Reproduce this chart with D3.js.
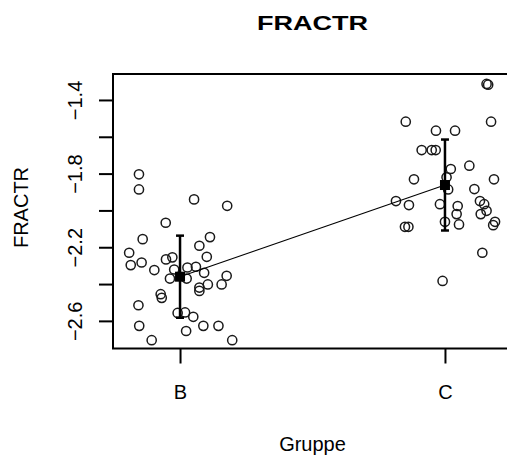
<!DOCTYPE html>
<html lang="en">
<head>
    <meta charset="utf-8" />
    <title>FRACTR</title>
    <script src="https://d3js.org/d3.v7.min.js"></script>
    <style>
        body { margin: 0; background: #fff; }
        svg text { font-family: "Liberation Sans", Arial, sans-serif; fill: #000; }
        .pts circle { fill: none; stroke: #1a1a1a; stroke-width: 1.5px; }
    </style>
</head>
<body>
    <svg width="507" height="461"></svg>
    <script>
        // groups and jittered observations (jitter in x units, value in FRACTR units)
        var groups = ["B", "C"];

        var bJitter = [-0.155, -0.155, 0.053, 0.178, -0.054, -0.141, 0.113, 0.073, -0.192, -0.186,
                       -0.145, -0.053, -0.029, 0.101, -0.097, -0.022, 0.028, 0.060, 0.091, -0.038,
                       0.025, 0.176, 0.105, 0.157, 0.073, 0.073, -0.073, -0.069, -0.157, -0.009,
                       0.019, 0.050, -0.154, 0.088, 0.145, 0.023, -0.107, 0.197];
        var bValues = [-1.804, -1.886, -1.940, -1.975, -2.067, -2.156, -2.145, -2.192, -2.230, -2.297,
                       -2.283, -2.266, -2.255, -2.252, -2.324, -2.321, -2.310, -2.306, -2.339, -2.370,
                       -2.370, -2.355, -2.402, -2.402, -2.419, -2.437, -2.455, -2.475, -2.515, -2.557,
                       -2.554, -2.578, -2.627, -2.627, -2.627, -2.655, -2.705, -2.705];

        var cJitter = [0.157, 0.163, -0.148, 0.174, -0.034, 0.038, -0.088, -0.050, -0.035, 0.022,
                       0.092, -0.117, 0.006, 0.185, 0.012, 0.111, -0.185, -0.136, -0.019, 0.132,
                       0.148, 0.048, 0.044, 0.135, 0.157, 0.189, 0.182, -0.151, -0.138, 0.000,
                       0.053, 0.141, -0.009];
        var cValues = [-1.313, -1.317, -1.518, -1.518, -1.567, -1.567, -1.672, -1.672, -1.672, -1.775,
                       -1.757, -1.831, -1.820, -1.831, -1.886, -1.884, -1.949, -1.971, -1.966, -1.949,
                       -1.966, -1.976, -2.020, -2.020, -2.002, -2.062, -2.080, -2.089, -2.089, -2.062,
                       -2.076, -2.230, -2.383];

        // group means and spread shown as error bars
        var means = [-2.360, -1.862];
        var sds = [0.223, 0.247];

        var yTicks = [-2.6, -2.4, -2.2, -2.0, -1.8, -1.6, -1.4];
        var yLabelled = [-2.6, -2.2, -1.8, -1.4];

        var svg = d3.select("svg");

        // plot region (right edge runs past the picture, as in the original)
        var plotL = 113, plotR = 512, plotT = 74, plotB = 348.5;

        var x = d3.scaleLinear().domain([0.747, 2.253]).range([plotL, plotR]);
        var y = d3.scaleLinear().domain([-2.750, -1.259]).range([plotB, plotT]);

        // observations
        var points = [];
        bValues.forEach(function (v, i) { points.push({ x: 1 + bJitter[i], y: v }); });
        cValues.forEach(function (v, i) { points.push({ x: 2 + cJitter[i], y: v }); });

        svg.append("g")
            .attr("class", "pts")
            .selectAll("circle")
            .data(points)
            .enter().append("circle")
                .attr("cx", function (d) { return x(d.x); })
                .attr("cy", function (d) { return y(d.y); })
                .attr("r", 4.6);

        // line joining the means
        svg.append("path")
            .datum(means)
            .attr("fill", "none")
            .attr("stroke", "#000")
            .attr("stroke-width", 1.1)
            .attr("d", d3.line()
                .x(function (d, i) { return x(i + 1); })
                .y(function (d) { return y(d); }));

        // error bars
        var bars = svg.append("g").attr("stroke", "#000").attr("stroke-width", 2.5);
        means.forEach(function (m, i) {
            var cx = x(i + 1);
            bars.append("line")
                .attr("x1", cx).attr("x2", cx)
                .attr("y1", y(m + sds[i])).attr("y2", y(m - sds[i]));
            [m + sds[i], m - sds[i]].forEach(function (v) {
                bars.append("line")
                    .attr("x1", cx - 4).attr("x2", cx + 4)
                    .attr("y1", y(v)).attr("y2", y(v));
            });
        });

        svg.append("g")
            .selectAll("rect")
            .data(means)
            .enter().append("rect")
                .attr("x", function (d, i) { return x(i + 1) - 5; })
                .attr("y", function (d) { return y(d) - 5; })
                .attr("width", 10)
                .attr("height", 10)
                .attr("fill", "#000");

        // plot box
        svg.append("rect")
            .attr("x", plotL).attr("y", plotT)
            .attr("width", plotR - plotL).attr("height", plotB - plotT)
            .attr("fill", "none")
            .attr("stroke", "#000")
            .attr("stroke-width", 2);

        // y axis
        var yAxis = svg.append("g")
            .attr("transform", "translate(" + plotL + ",0)")
            .call(d3.axisLeft(y)
                .tickValues(yTicks)
                .tickSize(14)
                .tickFormat(function (d) {
                    return yLabelled.indexOf(d) >= 0 ? d3.format(".1f")(d) : "";
                }));
        yAxis.select(".domain").remove();
        yAxis.selectAll(".tick line").attr("stroke-width", 2);
        yAxis.selectAll("text")
            .attr("x", null).attr("dy", null)
            .attr("transform", "translate(-31.3,0) rotate(-90)")
            .attr("text-anchor", "middle")
            .style("font-size", "20px")
            .style("font-family", "'Liberation Sans', Arial, sans-serif");

        // x axis
        var xAxis = svg.append("g")
            .attr("transform", "translate(0," + plotB + ")")
            .call(d3.axisBottom(x)
                .tickValues([1, 2])
                .tickSize(15)
                .tickFormat(function (d) { return groups[d - 1]; }));
        xAxis.select(".domain").remove();
        xAxis.selectAll(".tick line").attr("stroke-width", 2);
        xAxis.selectAll("text")
            .attr("y", 50).attr("dy", null)
            .style("font-size", "20px")
            .style("font-family", "'Liberation Sans', Arial, sans-serif");

        // titles
        svg.append("text")
            .attr("x", 312.5).attr("y", 30)
            .attr("text-anchor", "middle")
            .attr("textLength", 111)
            .attr("lengthAdjust", "spacingAndGlyphs")
            .style("font-size", "21px")
            .style("font-weight", "bold")
            .text("FRACTR");

        svg.append("text")
            .attr("x", 312.5).attr("y", 450.5)
            .attr("text-anchor", "middle")
            .style("font-size", "20px")
            .text("Gruppe");

        svg.append("text")
            .attr("transform", "translate(27.7,207.5) rotate(-90)")
            .attr("text-anchor", "middle")
            .style("font-size", "20px")
            .text("FRACTR");
    </script>
</body>
</html>
